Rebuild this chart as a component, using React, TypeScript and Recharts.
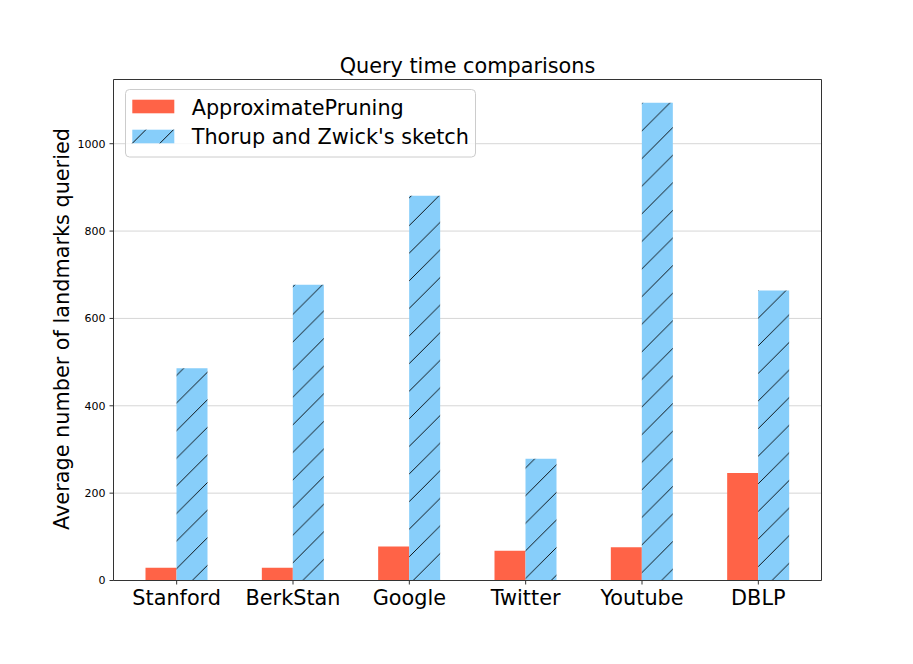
import React from "react";
import { BarChart, Bar, XAxis, YAxis, CartesianGrid, Legend } from "recharts";

const categories = ["Stanford", "BerkStan", "Google", "Twitter", "Youtube", "DBLP"];
const approximatePruning = [29, 29, 78, 68, 76, 246];
const thorupZwick = [486, 677, 881, 279, 1094, 664];
const yTicks = [0, 200, 400, 600, 800, 1000];

const seriesNames = {
  approx: "ApproximatePruning",
  thorup: "Thorup and Zwick's sketch",
};

const data = categories.map((c, i) => ({
  name: c,
  approx: approximatePruning[i],
  thorup: thorupZwick[i],
}));

const FONT = "'DejaVu Sans', sans-serif";
const RED = "#FF6347";
const BLUE = "#87CEFA";
const AXIS = "#333";
const T = 27.6;

const LegendBox = (props: any) => {
  const payload = props.payload || [];
  return (
    <svg width={352} height={69} style={{ display: "block" }}>
      <rect x={0.5} y={0.5} width={350} height={67.5} rx={4} ry={4} fill="#fff" fillOpacity={0.8} stroke="#cccccc" strokeWidth={1} />
      {payload.map((p: any, i: number) => {
        const sy = 10.7 + i * 30;
        const hatched = p.dataKey === "thorup";
        return (
          <g key={i}>
            <rect x={7.3} y={sy} width={42} height={13.6} fill={hatched ? BLUE : RED} />
            {hatched && (
              <g stroke="#000" strokeWidth={0.9}>
                <line x1={7.3} y1={sy + 13.6} x2={7.3 + 13.6} y2={sy} />
                <line x1={7.3 + T} y1={sy + 13.6} x2={7.3 + T + 13.6} y2={sy} />
              </g>
            )}
            <text x={66.7} y={25.7 + i * 29.3} fontSize={20.8} fontFamily={FONT} fill="#000">
              {p.value}
            </text>
          </g>
        );
      })}
    </svg>
  );
};

export default function App() {
  return (
    <div style={{ position: "absolute", left: 0, top: 0, width: 913, height: 664, background: "#fff" }}>
      <BarChart
        width={913}
        height={664}
        data={data}
        margin={{ top: 78.5, right: 90.5, bottom: 43.5, left: 53.5 }}
        barGap={0}
        barSize={31}
      >
        <defs>
          <pattern id="hatch" patternUnits="userSpaceOnUse" width={T} height={T}>
            <rect x={0} y={0} width={T} height={T} fill={BLUE} />
            <path
              d={`M0,${T} L${T},0 M-3,3 L3,-3 M${T - 3},${T + 3} L${T + 3},${T - 3}`}
              stroke="#000"
              strokeWidth={0.9}
            />
          </pattern>
        </defs>
        <CartesianGrid vertical={false} stroke="#d6d6d6" strokeWidth={1} />
        <XAxis
          dataKey="name"
          height={40}
          padding={{ left: 5, right: 5 }}
          stroke={AXIS}
          axisLine={{ stroke: AXIS, strokeWidth: 1 }}
          tickSize={4}
          tickMargin={6}
          tick={{ fontSize: 20.8, fill: "#000", fontFamily: FONT }}
          interval={0}
        />
        <XAxis
          xAxisId="top"
          dataKey="name"
          orientation="top"
          height={1}
          tick={false}
          tickLine={false}
          stroke={AXIS}
          axisLine={{ stroke: AXIS, strokeWidth: 1, strokeOpacity: 1 }}
        />
        <YAxis
          width={60}
          domain={[0, 1147]}
          ticks={yTicks}
          allowDataOverflow
          stroke={AXIS}
          axisLine={{ stroke: AXIS, strokeWidth: 1 }}
          tickSize={4}
          tickMargin={4}
          tick={{ fontSize: 11, fill: "#000", fontFamily: FONT }}
        />
        <YAxis
          yAxisId="right"
          orientation="right"
          width={1}
          domain={[0, 1147]}
          tick={false}
          tickLine={false}
          stroke={AXIS}
          axisLine={{ stroke: AXIS, strokeWidth: 1, strokeOpacity: 1 }}
        />
        <Legend
          verticalAlign="middle"
          layout="horizontal"
          content={<LegendBox />}
          wrapperStyle={{ position: "absolute", left: 125, top: 89, width: 352, height: 69 }}
        />
        <Bar dataKey="approx" name={seriesNames.approx} fill={RED} isAnimationActive={false} />
        <Bar dataKey="thorup" name={seriesNames.thorup} fill="url(#hatch)" isAnimationActive={false} />
      </BarChart>
      <svg width={913} height={664} style={{ position: "absolute", left: 0, top: 0, pointerEvents: "none" }}>
        <text x={467.5} y={73.3} textAnchor="middle" fontSize={20.8} fontFamily={FONT} fill="#000">
          Query time comparisons
        </text>
        <text
          x={0}
          y={0}
          transform="translate(68.5,329) rotate(-90)"
          textAnchor="middle"
          fontSize={20.8}
          fontFamily={FONT}
          fill="#000"
        >
          Average number of landmarks queried
        </text>
      </svg>
    </div>
  );
}
